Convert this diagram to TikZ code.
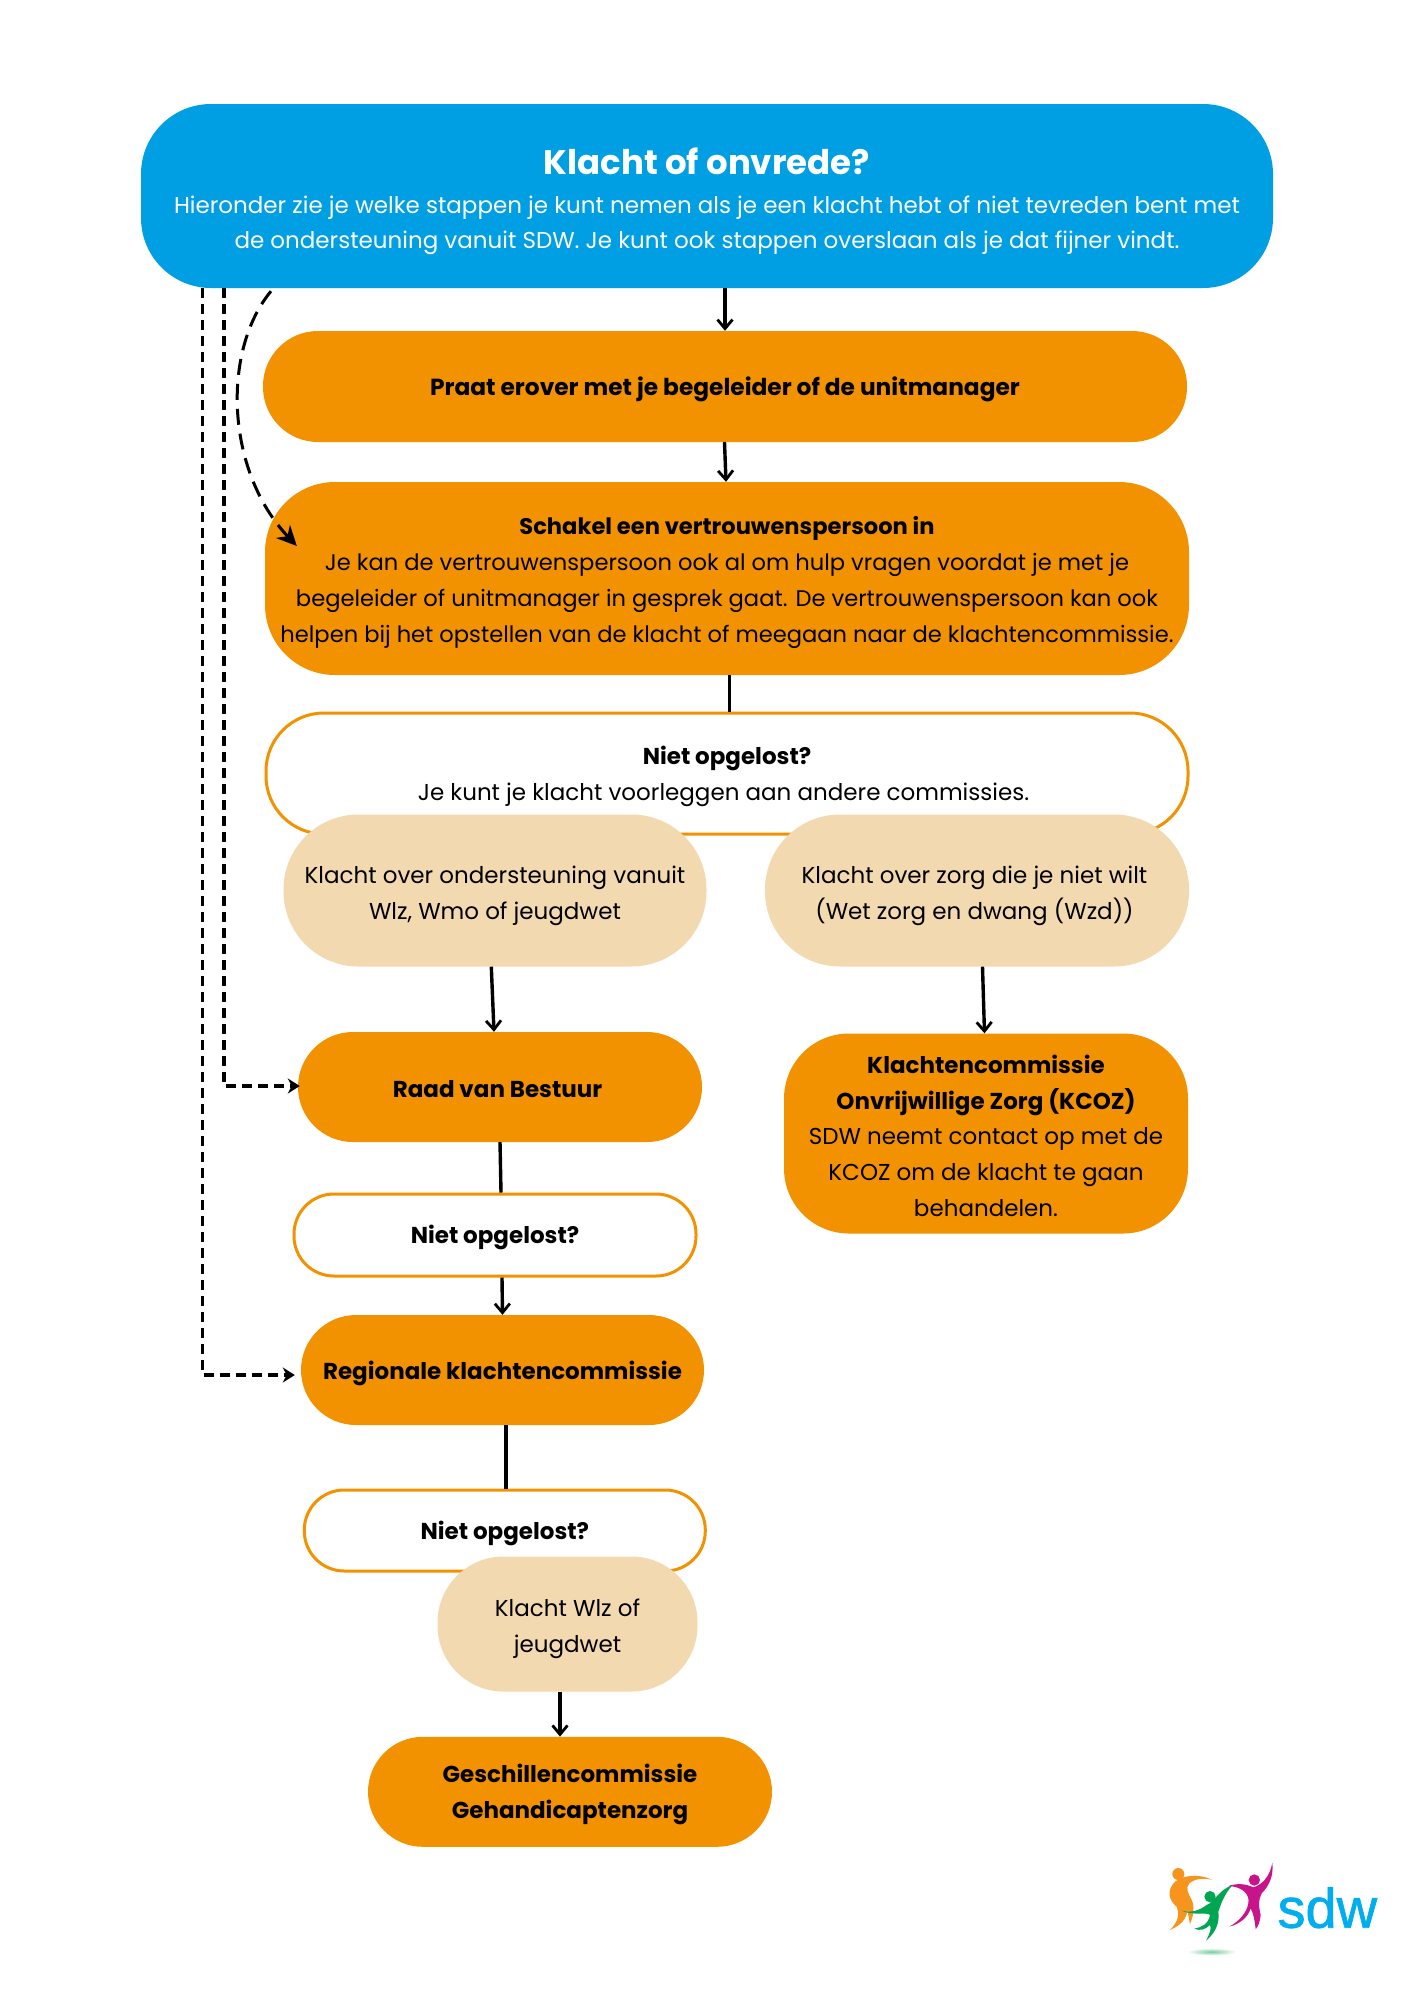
\documentclass[tikz,border=0pt]{standalone}
\usepackage{fontspec}
\setmainfont{Poppins}
\newfontfamily\logofont[FakeBold=1.2]{Liberation Sans}
\usetikzlibrary{arrows.meta}
\definecolor{sblue}{HTML}{009FE3}
\definecolor{sorange}{HTML}{F39200}
\definecolor{sbeige}{HTML}{F3D9AF}
\definecolor{scyan}{HTML}{00AEEF}
\definecolor{smag}{HTML}{C9138B}
\definecolor{sgreen}{HTML}{00A651}
\definecolor{slogoor}{HTML}{F7941D}
\newcommand{\dn}[1]{\rule{0pt}{#1pt}}
\tikzset{
  pill/.style={rectangle,inner sep=0pt,align=center,font=\fontsize{23}{35.8}\selectfont,text=black},
  filled/.style={pill,fill=sorange},
  outlined/.style={pill,draw=sorange,line width=3pt,fill=white},
  soft/.style={pill,fill=sbeige},
  conn/.style={line width=3.4pt,draw=black},
  arr/.style={conn,-{Straight Barb[length=9pt,width=15pt,line width=2.8pt]}},
  dash arr/.style={line width=3.4pt,draw=black,dash pattern=on 10pt off 6pt,-{Stealth[length=12pt,width=15pt]}},
  curve arr/.style={line width=3pt,draw=black,dash pattern=on 16pt off 9pt,-{Stealth[length=20pt,width=19pt]}},
}
\begin{document}
\begin{tikzpicture}[x=1pt,y=-1pt]
\useasboundingbox (0,0) rectangle (1414,2000);
\fill[white] (0,0) rectangle (1414,2000);
\node[pill,fill=sblue,text=white,rounded corners=70pt,minimum width=1132pt,minimum height=184pt] (top) at (707,196)
 {\dn{37}{\fontsize{34}{40}\selectfont\bfseries Klacht of onvrede?}\\[3pt]
 Hieronder zie je welke stappen je kunt nemen als je een klacht hebt of niet tevreden bent met\\[-1pt]
 de ondersteuning vanuit SDW. Je kunt ook stappen overslaan als je dat fijner vindt.};
\node[filled,rounded corners=55pt,minimum width=924pt,minimum height=111pt] (praat) at (725,386.5) {\dn{24}\fontsize{23.3}{36}\selectfont\bfseries Praat erover met je begeleider of de unitmanager};
\node[filled,rounded corners=70pt,minimum width=924pt,minimum height=193pt,font=\fontsize{22.6}{35.8}\selectfont] (schakel) at (727,578.5)
 {\dn{26}\textbf{Schakel een vertrouwenspersoon in}\\
 Je kan de vertrouwenspersoon ook al om hulp vragen voordat je met je\\
 begeleider of unitmanager in gesprek gaat. De vertrouwenspersoon kan ook\\
 helpen bij het opstellen van de klacht of meegaan naar de klachtencommissie.};
\node[outlined,rounded corners=58pt,minimum width=922pt,minimum height=121pt] (nietA) at (727,773.5)
 {\dn{24}\textbf{Niet opgelost?}\\Je kunt je klacht voorleggen aan andere commissies.\hspace*{7pt}};
\node[soft,rounded corners=75pt,minimum width=423pt,minimum height=152pt] (ondst) at (495,890.5)
 {\dn{28}Klacht over ondersteuning vanuit\\Wlz, Wmo of jeugdwet};
\node[soft,rounded corners=75pt,minimum width=424pt,minimum height=152pt] (zorg) at (977,890.5)
 {\dn{28}Klacht over zorg die je niet wilt\hspace*{5pt}\\(Wet zorg en dwang (Wzd))\hspace*{5pt}};
\node[filled,rounded corners=55pt,minimum width=404pt,minimum height=110pt] (raad) at (500,1087) {\dn{22}\bfseries Raad van Bestuur\hspace*{5pt}};
\node[filled,rounded corners=65pt,minimum width=404pt,minimum height=200pt] (kcoz) at (986,1133.5)
 {\dn{23}\textbf{Klachtencommissie}\\\textbf{Onvrijwillige Zorg (KCOZ)}\\SDW neemt contact op met de\\KCOZ om de klacht te gaan\\behandelen.};
\node[outlined,rounded corners=40pt,minimum width=402pt,minimum height=82pt] (nietB) at (495,1235) {\dn{24}\bfseries Niet opgelost?};
\node[filled,rounded corners=55pt,minimum width=403pt,minimum height=110pt] (regio) at (502.5,1370) {\dn{26}\bfseries Regionale klachtencommissie};
\node[outlined,rounded corners=40pt,minimum width=401pt,minimum height=81pt] (nietC) at (504.8,1530.5) {\dn{24}\bfseries Niet opgelost?};
\node[soft,rounded corners=66pt,minimum width=260pt,minimum height=135pt] (wlz) at (567.5,1624) {\dn{27}Klacht Wlz of\\jeugdwet};
\node[filled,rounded corners=55pt,minimum width=404pt,minimum height=110pt] (gesch) at (570,1791.8) {\dn{24}\textbf{Geschillencommissie}\\\textbf{Gehandicaptenzorg}};
% connectors
\draw[arr] ([xshift=18pt]top.south) -- (praat.north);
\draw[arr] ([xshift=-0.5pt]praat.south) -- ([xshift=-1pt]schakel.north);
\draw[conn] ([xshift=2.5pt]schakel.south) -- ([xshift=2.5pt]nietA.north);
\draw[arr] ([xshift=-3.7pt]ondst.south) -- ([xshift=-6pt]raad.north);
\draw[arr] ([xshift=5.5pt]zorg.south) -- ([xshift=-1.5pt]kcoz.north);
\draw[conn] (raad.south) -- ([xshift=6pt]nietB.north);
\draw[arr] ([xshift=7pt]nietB.south) -- (regio.north);
\draw[conn] ([xshift=3.5pt]regio.south) -- ([xshift=1.2pt]nietC.north);
\draw[arr] ([xshift=-7.5pt]wlz.south) -- ([xshift=-10pt]gesch.north);
% dashed
\draw[dash arr] ([xshift=-504.5pt]top.south) |- ([xshift=-6pt,yshift=-5pt]regio.west);
\draw[dash arr] ([xshift=-483pt]top.south) |- ([xshift=2pt,yshift=1pt]raad.west);
\draw[curve arr] ([xshift=-436pt,yshift=-3pt]top.south) .. controls (222,350) and (225,470) .. ([xshift=32pt,yshift=32.5pt]schakel.west);
% logo
\begin{scope}[shift={(1150,1850)},x=0.3333pt,y=-0.3333pt]
 \shade[inner color=sgreen!55!white,outer color=white] (185,305) ellipse [x radius=74,y radius=11];
 \fill[slogoor] (85,72) circle [radius=18];
 \fill[slogoor] (187,90) .. controls (150,70) and (100,75) .. (75,95) .. controls (50,120) and (55,150) .. (80,170) .. controls (90,190) and (85,215) .. (60,240) .. controls (95,225) and (110,205) .. (112,180) -- (120,222) .. controls (130,200) and (135,170) .. (125,150) .. controls (115,130) and (105,115) .. (118,100) .. controls (135,85) and (165,83) .. (187,90) -- cycle;
 \fill[sgreen] (180,140) circle [radius=17];
 \fill[sgreen] (95,182) .. controls (125,190) and (150,180) .. (170,165) .. controls (195,155) and (205,120) .. (248,105) .. controls (225,130) and (215,155) .. (205,185) .. controls (210,220) and (195,250) .. (168,272) .. controls (180,250) and (185,235) .. (180,225) .. controls (165,240) and (150,243) .. (133,236) .. controls (155,232) and (175,222) .. (180,195) .. controls (170,185) and (130,198) .. (95,182) -- cycle;
 \fill[smag] (313,90) circle [radius=17];
 \fill[smag] (235,108) .. controls (260,100) and (285,100) .. (310,112) .. controls (335,105) and (360,80) .. (367,38) .. controls (372,80) and (355,110) .. (335,130) .. controls (325,150) and (325,165) .. (332,195) .. controls (330,215) and (325,228) .. (317,238) .. controls (315,215) and (310,190) .. (302,175) .. controls (295,200) and (270,222) .. (238,230) .. controls (265,215) and (290,190) .. (295,160) .. controls (300,135) and (280,110) .. (235,108) -- cycle;
 \node[anchor=base west,inner sep=0pt,text=scyan,font=\logofont\fontsize{56}{56}\selectfont] (sdw) at (382,233) {sdw};
\end{scope}
\end{tikzpicture}
\end{document}
